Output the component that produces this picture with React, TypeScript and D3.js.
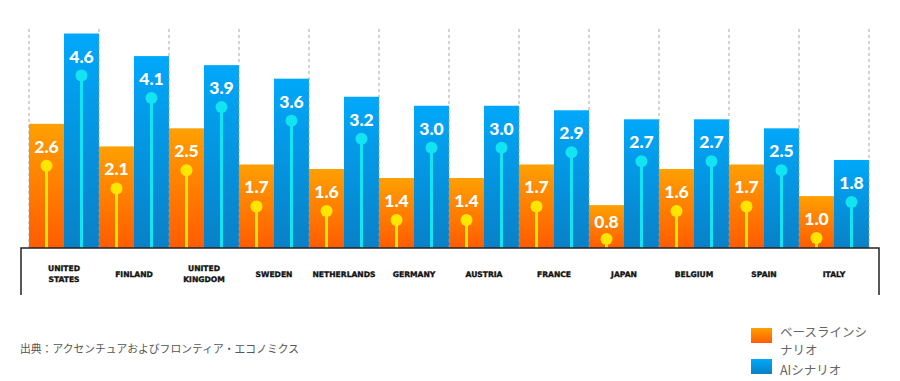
import React from "react";
import * as d3 from "d3";

const categories = [
  ["UNITED", "STATES"],
  ["FINLAND"],
  ["UNITED", "KINGDOM"],
  ["SWEDEN"],
  ["NETHERLANDS"],
  ["GERMANY"],
  ["AUSTRIA"],
  ["FRANCE"],
  ["JAPAN"],
  ["BELGIUM"],
  ["SPAIN"],
  ["ITALY"],
];
const baseline = [2.6, 2.1, 2.5, 1.7, 1.6, 1.4, 1.4, 1.7, 0.8, 1.6, 1.7, 1.0];
const aiScenario = [4.6, 4.1, 3.9, 3.6, 3.2, 3.0, 3.0, 2.9, 2.7, 2.7, 2.5, 1.8];
const seriesKeys = ["base", "ai"];
const legendLabels = [["ベースラインシ", "ナリオ"], ["AIシナリオ"]];
const sourceText = "出典：アクセンチュアおよびフロンティア・エコノミクス";

const W = 900;
const H = 381;
const baseY = 248;
const topY = 29;

export default function App() {
  const keys = categories.map((c) => c.join(" "));
  const x = d3.scaleBand<string>().domain(keys).range([29, 869]).padding(0);
  const xs = d3.scaleBand<string>().domain(seriesKeys).range([0, x.bandwidth()]).padding(0);
  const y = d3.scaleLinear().domain([-0.15, 4.7]).range([baseY, topY]);

  const bars: any[] = [];
  keys.forEach((k, i) => {
    [baseline[i], aiScenario[i]].forEach((v, j) => {
      const key = seriesKeys[j];
      const bx = (x(k) as number) + (xs(key) as number);
      const bw = xs.bandwidth();
      const top = y(v);
      const cx = bx + bw / 2;
      const circleY = Math.min(top + 42, baseY - 9);
      const labelY = Math.min(top + 29, circleY - 11);
      bars.push(
        <g key={k + key}>
          <rect x={bx} y={top} width={bw} height={baseY - top} fill={j === 0 ? "url(#gOrange)" : "url(#gBlue)"} />
          <line x1={cx} x2={cx} y1={circleY} y2={baseY} stroke={j === 0 ? "#FFE600" : "#12E4F2"} strokeWidth={3} />
          <circle cx={cx} cy={circleY} r={6} fill={j === 0 ? "#FFE600" : "#12E4F2"} />
          <text x={cx} y={labelY} textAnchor="middle" fill="#fff" fontFamily="Lato, 'DejaVu Sans', sans-serif" fontWeight={900} fontSize={17.5}>
            {d3.format(".1f")(v)}
          </text>
        </g>
      );
    });
  });

  const gridXs = [...keys.map((k) => x(k) as number), 869];

  return (
    <svg width={W} height={H} style={{ position: "absolute", left: 0, top: 0, background: "#fff" }}>
      <defs>
        <linearGradient id="gOrange" x1="0" y1="0" x2="0" y2="1">
          <stop offset="0%" stopColor="#FFA000" />
          <stop offset="100%" stopColor="#FF5C00" />
        </linearGradient>
        <linearGradient id="gBlue" x1="0" y1="0" x2="0" y2="1">
          <stop offset="0%" stopColor="#00A8FA" />
          <stop offset="100%" stopColor="#0A80C6" />
        </linearGradient>
      </defs>
      {bars}
      {gridXs.map((gx, i) => (
        <line key={"g" + i} x1={gx} x2={gx} y1={topY} y2={baseY} stroke="#999" strokeWidth={1} strokeDasharray="3,3" opacity={0.85} />
      ))}
      <path d={`M21,295V${baseY}H879V295`} fill="none" stroke="#222" strokeWidth={1.5} />
      {categories.map((c, i) => {
        const cx = (x(keys[i]) as number) + x.bandwidth() / 2;
        return (
          <text key={"c" + i} textAnchor="middle" fontFamily="'DejaVu Sans', sans-serif" fontWeight="bold" fontSize={7.6} fill="#111" stroke="#111" strokeWidth={0.35}>
            {c.map((line, li) => (
              <tspan key={li} x={cx} y={(c.length === 1 ? 277 : 271) + li * 11}>
                {line}
              </tspan>
            ))}
          </text>
        );
      })}
      <text x={20} y={353} fontFamily="'Noto Sans CJK JP', sans-serif" fontSize={10.8} fill="#555">
        {sourceText}
      </text>
      {legendLabels.map((lab, i) => {
        const ly = i === 0 ? 328 : 359;
        const ty = i === 0 ? 336.5 : 374.5;
        return (
          <g key={"l" + i}>
            <rect x={751} y={ly} width={21} height={15} fill={i === 0 ? "url(#gOrange)" : "url(#gBlue)"} />
            {lab.map((t, ti) => (
              <text key={ti} x={780} y={ty + ti * 18} fontFamily="'Noto Sans CJK JP', sans-serif" fontSize={12.5} fill="#666">
                {t}
              </text>
            ))}
          </g>
        );
      })}
    </svg>
  );
}
